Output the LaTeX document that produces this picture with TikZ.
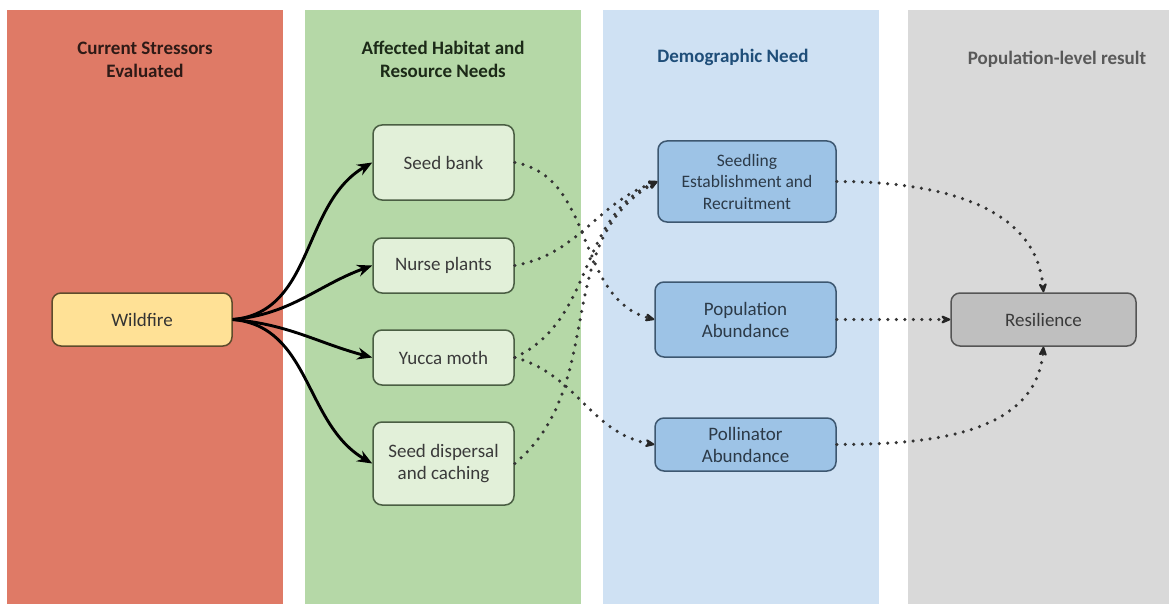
\documentclass[tikz,border=0pt]{standalone}
\usepackage{fontspec}
\setmainfont{Carlito}
\usetikzlibrary{arrows.meta}
\definecolor{redcol}{HTML}{DF7A66}
\definecolor{greencol}{HTML}{B5D8A7}
\definecolor{bluecol}{HTML}{CFE1F3}
\definecolor{graycol}{HTML}{D9D9D9}
\definecolor{greennode}{HTML}{E2F0D9}
\definecolor{greenedge}{HTML}{4A5E43}
\definecolor{bluenode}{HTML}{9DC3E6}
\definecolor{blueedge}{HTML}{3D5770}
\definecolor{yellownode}{HTML}{FFE196}
\definecolor{yellowedge}{HTML}{5E4C2C}
\definecolor{graynode}{HTML}{BFBFBF}
\definecolor{grayedge}{HTML}{555555}
\definecolor{redhdr}{HTML}{2E1A16}
\definecolor{greenhdr}{HTML}{1C2A18}
\definecolor{bluehdr}{HTML}{1F4E79}
\definecolor{grayhdr}{HTML}{595959}
\definecolor{dotc}{HTML}{333333}
\definecolor{boxtext}{HTML}{3A3A3A}
\definecolor{bluetext}{HTML}{2C3A48}
\begin{document}
\begin{tikzpicture}[x=1pt,y=-1pt,
  col/.style={draw=none, anchor=north west, inner sep=0pt, minimum width=276pt, minimum height=594pt},
  hdr/.style={font=\fontsize{19}{23}\selectfont\bfseries, align=center},
  box/.style={draw, rounded corners=9pt, line width=1.5pt, align=center, text=boxtext, font=\fontsize{19}{22}\selectfont, inner sep=0pt},
  gbox/.style={box, fill=greennode, draw=greenedge, minimum width=141pt},
  bbox/.style={box, fill=bluenode, draw=blueedge, text=bluetext},
  solidarr/.style={line width=2.9pt, -{Stealth[length=15pt,width=12pt,inset=5pt]}},
  dotarr/.style={draw=dotc, line width=3.5pt, line cap=round, dash pattern=on 0pt off 8.5pt, -{Stealth[length=13pt,width=11pt,inset=5pt,round=false,color=black!85]}}
]
\useasboundingbox (0,0) rectangle (1169,604);
\fill[white] (0,0) rectangle (1169,604);
% columns
\node[col, fill=redcol] (c1) at (7,10) {};
\node[col, fill=greencol] (c2) at (305,10) {};
\node[col, fill=bluecol] (c3) at (603,10) {};
\node[col, fill=graycol, minimum width=261pt] (c4) at (908,10) {};
% headers
\node[hdr, text=redhdr] (h1) at (145,59.5) {Current Stressors\\Evaluated};
\node[hdr, text=greenhdr] (h2) at (443,59.5) {Affected Habitat and\\Resource Needs};
\node[hdr, text=bluehdr] (h3) at (733,57) {Demographic Need};
\node[hdr, text=grayhdr] (h4) at (1057,59) {Population-level result};
% nodes
\node[box, fill=yellownode, draw=yellowedge, text=black!80, minimum width=180pt, minimum height=53pt] (wf) at (142,319.5) {Wildfire};
\node[gbox, minimum height=75pt] (sb) at (443.5,162.5) {Seed bank};
\node[gbox, minimum height=55pt] (np) at (443.5,265.5) {Nurse plants};
\node[gbox, minimum height=55pt] (ym) at (443.5,357.5) {Yucca moth};
\node[gbox, minimum height=83pt] (sd) at (443.5,463.5) {Seed dispersal\\and caching};
\node[bbox, minimum width=178pt, minimum height=81pt, font=\fontsize{17.5}{21.5}\selectfont] (se) at (747,181.5) {Seedling\\Establishment and\\Recruitment};
\node[bbox, minimum width=181pt, minimum height=75pt] (pa) at (745.5,319.5) {Population\\Abundance};
\node[bbox, minimum width=181pt, minimum height=53pt] (po) at (745.5,444.5) {Pollinator\\Abundance};
\node[box, fill=graynode, draw=grayedge, minimum width=185pt, minimum height=53pt] (re) at (1043.5,319.5) {Resilience};
% solid arrows
\draw[solidarr] (wf.east) to[out=5,in=210] (sb.west);
\draw[solidarr] (wf.east) to[out=5,in=200] (np.west);
\draw[solidarr] (wf.east) to[out=-5,in=165] (ym.west);
\draw[solidarr] (wf.east) to[out=-5,in=150] (sd.west);
% dotted arrows
\draw[dotarr] (sb.east) to[out=-10,in=165] (pa.west);
\draw[dotarr] (np.east) to[out=10,in=200] (se.west);
\draw[dotarr] (ym.east) to[out=25,in=205] (se.west);
\draw[dotarr] (ym.east) to[out=-15,in=170] (po.west);
\draw[dotarr] (sd.east) to[out=40,in=210] (se.west);
\draw[dotarr] (se.east) to[out=0,in=95] (re.north);
\draw[dotarr] (pa.east) -- (re.west);
\draw[dotarr] (po.east) to[out=0,in=-95] (re.south);
\end{tikzpicture}
\end{document}
